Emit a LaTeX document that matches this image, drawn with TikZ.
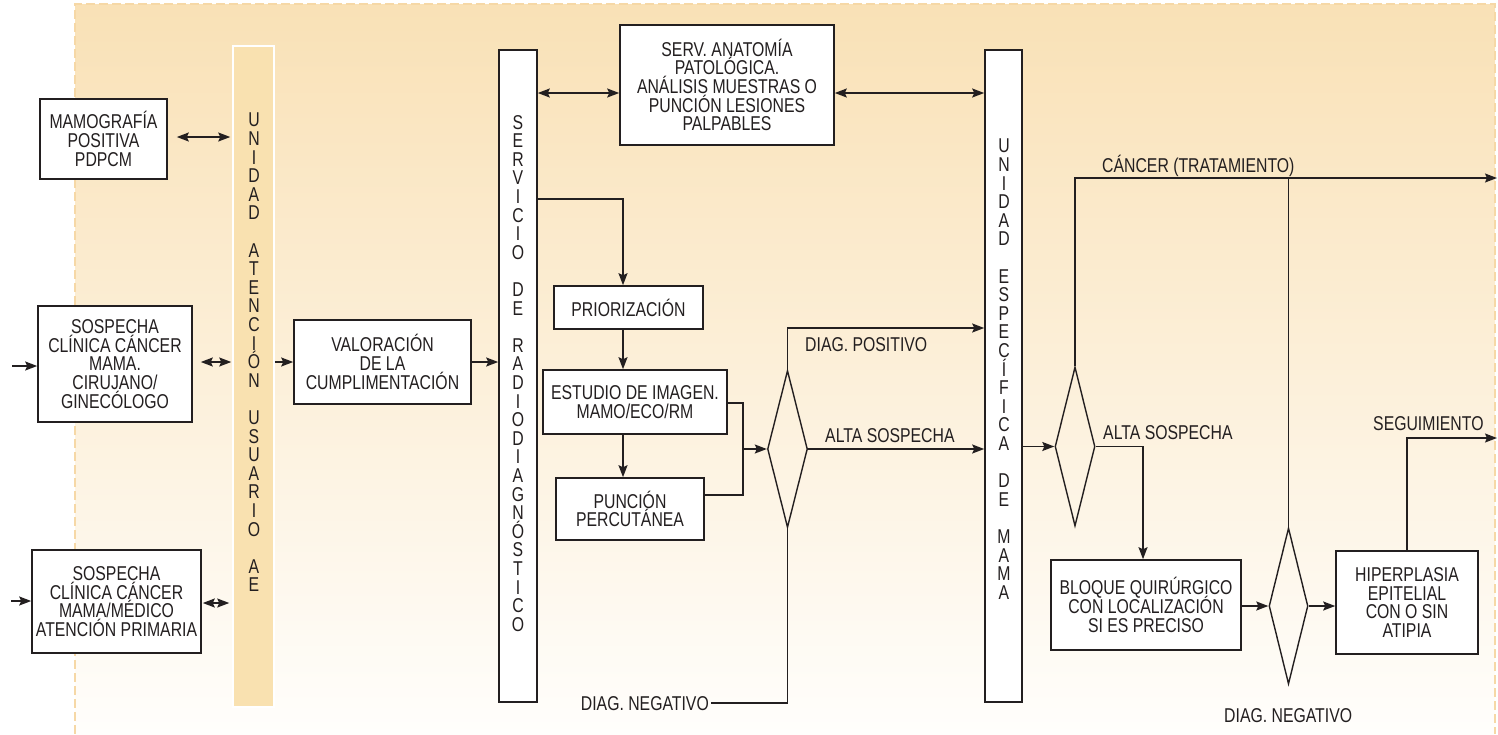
\documentclass[tikz,border=0pt]{standalone}
\usepackage{fontspec}
\setmainfont{Liberation Sans}[FakeStretch=0.79]
\usetikzlibrary{arrows.meta,shapes.geometric,calc}
\definecolor{ink}{RGB}{35,31,32}
\definecolor{bgTop}{RGB}{249,225,182}
\definecolor{bgMid}{RGB}{251,238,214}
\definecolor{bgBot}{RGB}{255,254,252}
\definecolor{bgEdge}{RGB}{246,216,166}
\definecolor{uaFill}{RGB}{249,225,176}
\newcommand\txtfont{\fontsize{20}{18.6}\selectfont\lineskiplimit=-100pt\lineskip=0pt}
\tikzset{
  box/.style={draw=ink, line width=1.6pt, fill=white, inner sep=0pt, align=center, font=\txtfont, text=ink},
  bar/.style={draw=ink, line width=1.6pt, fill=white, inner sep=0pt},
  uabar/.style={draw=white, line width=1.5pt, fill=uaFill, inner sep=0pt},
  vtxt/.style={inner sep=0pt, align=center, font=\txtfont, text=ink, anchor=north},
  lbl/.style={inner sep=0pt, font=\txtfont, text=ink, text height=14.3pt, text depth=0pt},
  dia/.style={diamond, draw=ink, line width=1.4pt, inner sep=0pt},
  conn/.style={draw=ink, line width=1.5pt},
  arr/.style={conn, -{Stealth[length=12pt,width=9pt,inset=2pt]}},
  dbl/.style={conn, {Stealth[length=12pt,width=9pt,inset=2pt]}-{Stealth[length=12pt,width=9pt,inset=2pt]}}
}
\begin{document}
\begin{tikzpicture}[x=1pt,y=-1pt]
\useasboundingbox (0,0) rectangle (1498,734);
% background
\shade[top color=bgTop, middle color=bgMid, bottom color=bgBot] (75,4) rectangle (1495,734);
\draw[bgEdge, line width=1.5pt, dash pattern=on 9pt off 4pt] (75,734) -- (75,4) -- (1495,4) -- (1495,734);

% vertical bars
\node[uabar, minimum width=41pt, minimum height=661pt] (ua) at (253.5,376.5) {};
\node[vtxt] (uat) at (254,112.9) {U\\N\\I\\D\\A\\D\\[18.6pt]A\\T\\E\\N\\C\\I\\Ó\\N\\[18.6pt]U\\S\\U\\A\\R\\I\\O\\[18.6pt]A\\E};
\node[bar, minimum width=38pt, minimum height=652pt] (serv) at (518,376) {};
\node[vtxt] (servt) at (518,114.9) {S\\E\\R\\V\\I\\C\\I\\O\\[18.6pt]D\\E\\[18.6pt]R\\A\\D\\I\\O\\D\\I\\A\\G\\N\\Ó\\S\\T\\I\\C\\O};
\node[bar, minimum width=37pt, minimum height=652pt] (esp) at (1003.5,376) {};
\node[vtxt] (espt) at (1004,138.9) {U\\N\\I\\D\\A\\D\\[18.6pt]E\\S\\P\\E\\C\\Í\\F\\I\\C\\A\\[18.6pt]D\\E\\[18.6pt]M\\A\\M\\A};

% boxes
\node[box, minimum width=127pt, minimum height=80pt] (mamo) at (103.5,139) {MAMOGRAFÍA\\POSITIVA\\PDPCM};
\node[box, minimum width=154pt, minimum height=116pt] (sosp1) at (115,364) {SOSPECHA\\CLÍNICA CÁNCER\\MAMA.\\CIRUJANO/\\GINECÓLOGO};
\node[box, minimum width=169pt, minimum height=103pt] (sosp2) at (116.5,601.5) {SOSPECHA\\CLÍNICA CÁNCER\\MAMA/MÉDICO\\ATENCIÓN PRIMARIA};
\node[box, minimum width=177pt, minimum height=84pt] (valor) at (382.5,362) {VALORACIÓN\\DE LA\\CUMPLIMENTACIÓN};
\node[box, minimum width=214pt, minimum height=120pt] (anat) at (727,85) {SERV. ANATOMÍA\\PATOLÓGICA.\\ANÁLISIS MUESTRAS O\\PUNCIÓN LESIONES\\PALPABLES};
\node[box, minimum width=149pt, minimum height=43pt] (prior) at (628.5,307.5) {PRIORIZACIÓN};
\node[box, minimum width=184pt, minimum height=64pt] (estud) at (635,402) {ESTUDIO DE IMAGEN.\\MAMO/ECO/RM};
\node[box, minimum width=148pt, minimum height=62pt] (punc) at (630,509) {PUNCIÓN\\PERCUTÁNEA};
\node[box, minimum width=190pt, minimum height=90pt] (bloque) at (1146,605) {BLOQUE QUIRÚRGICO\\CON LOCALIZACIÓN\\SI ES PRECISO};
\node[box, minimum width=142pt, minimum height=103pt] (hiper) at (1407,602.5) {HIPERPLASIA\\EPITELIAL\\CON O SIN\\ATIPIA};

% diamonds
\node[dia, minimum width=40pt, minimum height=157pt] (d1) at (787.5,449) {};
\node[dia, minimum width=40pt, minimum height=159pt] (d2) at (1075,446.5) {};
\node[dia, minimum width=39pt, minimum height=156pt] (d3) at (1288.5,606) {};

% labels
\node[lbl, anchor=west] (lpos) at (805,344) {DIAG. POSITIVO};
\node[lbl, anchor=west] (lalta1) at (825,435) {ALTA SOSPECHA};
\node[lbl, anchor=east, inner xsep=2pt] (neg1) at (711,703) {DIAG. NEGATIVO};
\node[lbl, anchor=west] (lcan) at (1102,165) {CÁNCER (TRATAMIENTO)};
\node[lbl, anchor=west] (lalta2) at (1103,432) {ALTA SOSPECHA};
\node[lbl, anchor=west] (lseg) at (1373,423) {SEGUIMIENTO};
\node[lbl, anchor=west] (lneg2) at (1224,715) {DIAG. NEGATIVO};

% helper coordinates
\coordinate (in1) at (12,366);
\coordinate (in2) at (11,601);
\coordinate (yM) at (0,137);
\coordinate (yS1) at (0,362);
\coordinate (yS2) at (0,603);
\coordinate (yA) at (0,93);
\coordinate (xP) at (623,199);
\coordinate (j1) at (743,403);
\coordinate (j2) at (743,495);
\coordinate (j3) at (743,449);
\coordinate (yDP) at (0,328);
\coordinate (out1) at (1497,178);
\coordinate (xB) at (1143,0);
\coordinate (out2) at (1497,438);

% left connectors
\draw[arr] (in1) -- (in1 -| sosp1.west);
\draw[arr] (in2) -- (in2 -| sosp2.west);
\draw[dbl] ($(mamo.east |- yM)+(9,0)$) -- ($(yM -| ua.west)+(-2,0)$);
\draw[dbl] ($(sosp1.east |- yS1)+(8,0)$) -- ($(yS1 -| ua.west)+(-1,0)$);
\draw[dbl] ($(sosp2.east |- yS2)+(1,0)$) -- ($(yS2 -| ua.west)+(-3,0)$);
\draw[arr] (valor.west -| ua.east) -- (valor.west);
\draw[arr] (valor.east) -- (valor.east -| serv.west);

% top
\draw[dbl] (yA -| serv.east) -- (yA -| anat.west);
\draw[dbl] (yA -| anat.east) -- (yA -| esp.west);

% radiodiagnostico chain
\draw[arr] (xP -| serv.east) -- (xP) -- (xP |- prior.north);
\draw[arr] (xP |- prior.south) -- (xP |- estud.north);
\draw[arr] (xP |- estud.south) -- (xP |- punc.north);
\draw[conn] (j1 -| estud.east) -- (j1) -- (j2) -- (j2 -| punc.east);
\draw[arr] (j3) -- (j3 -| d1.west);

% diamond 1
\draw[arr] (d1.north) -- (d1.north |- yDP) -- (yDP -| esp.west);
\draw[arr] (d1.east) -- (d1.east -| esp.west);
\draw[conn] (d1.south) |- (neg1.east);

% right part
\draw[arr] (d2.west -| esp.east) -- (d2.west);
\draw[arr] (d2.north) |- (out1);
\draw[conn] (d3.north |- out1) -- (d3.north);
\draw[arr] (d2.east) -- (d2.east -| xB) -- (xB |- bloque.north);
\draw[arr] (d3.west -| bloque.east) -- (d3.west);
\draw[arr] (d3.east) -- (d3.east -| hiper.west);
\draw[arr] (hiper.north) |- (out2);
\end{tikzpicture}
\end{document}
